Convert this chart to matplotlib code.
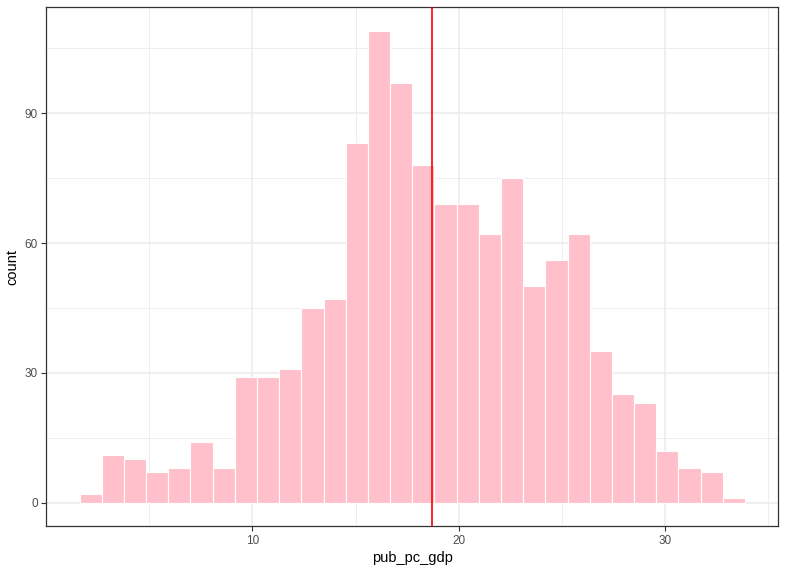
import matplotlib
matplotlib.use("Agg")
import matplotlib.pyplot as plt
import numpy as np

plt.rcParams['font.family'] = ['Liberation Sans', 'DejaVu Sans']

# --- DATA ---
bin_start = 1.62
bin_width = 1.075
counts = [2, 11, 10, 7, 8, 14, 8, 29, 29, 31,
          45, 47, 83, 109, 97, 78, 69, 69, 62, 75,
          50, 56, 62, 35, 25, 23, 12, 8, 7, 1]
mean_value = 18.69
x_ticks = [10, 20, 30]
x_minor = [5, 15, 25, 35]
y_ticks = [0, 30, 60, 90]
y_minor = [15, 45, 75, 105]

edges = bin_start + bin_width * np.arange(len(counts) + 1)

# --- PLOT ---
fig = plt.figure(figsize=(7.86, 5.72), dpi=100)
ax = fig.add_axes([0.0589, 0.0799, 0.9313, 0.9073])

grid_col = '#EBEBEB'
for v in x_minor:
    ax.axvline(v, color=grid_col, lw=0.6, zorder=0)
for v in y_minor:
    ax.axhline(v, color=grid_col, lw=0.6, zorder=0)
for v in x_ticks:
    ax.axvline(v, color=grid_col, lw=1.1, zorder=0)
for v in y_ticks:
    ax.axhline(v, color=grid_col, lw=1.1, zorder=0)

ax.bar(edges[:-1], counts, width=bin_width, align='edge',
       color='#FFC0CB', edgecolor='white', linewidth=0.8, zorder=2)
ax.axvline(mean_value, color='red', lw=1.2, zorder=3)

# ggplot-style 5% expansion
span = edges[-1] - edges[0]
ax.set_xlim(edges[0] - 0.05 * span, edges[-1] + 0.05 * span)
ymax = max(counts)
ax.set_ylim(-0.05 * ymax, ymax * 1.05)

ax.set_xticks(x_ticks)
ax.set_yticks(y_ticks)
ax.tick_params(axis='both', colors='#333333', labelcolor='#4D4D4D',
               labelsize=8.5, length=3.5, width=0.8, pad=2.5)

for s in ax.spines.values():
    s.set_color('#333333')
    s.set_linewidth(0.9)

ax.set_xlabel('pub_pc_gdp', fontsize=10.5, color='black', labelpad=3)
ax.set_ylabel('count', fontsize=10.5, color='black', labelpad=4)

fig.savefig('out.png', dpi=100, facecolor='white')
